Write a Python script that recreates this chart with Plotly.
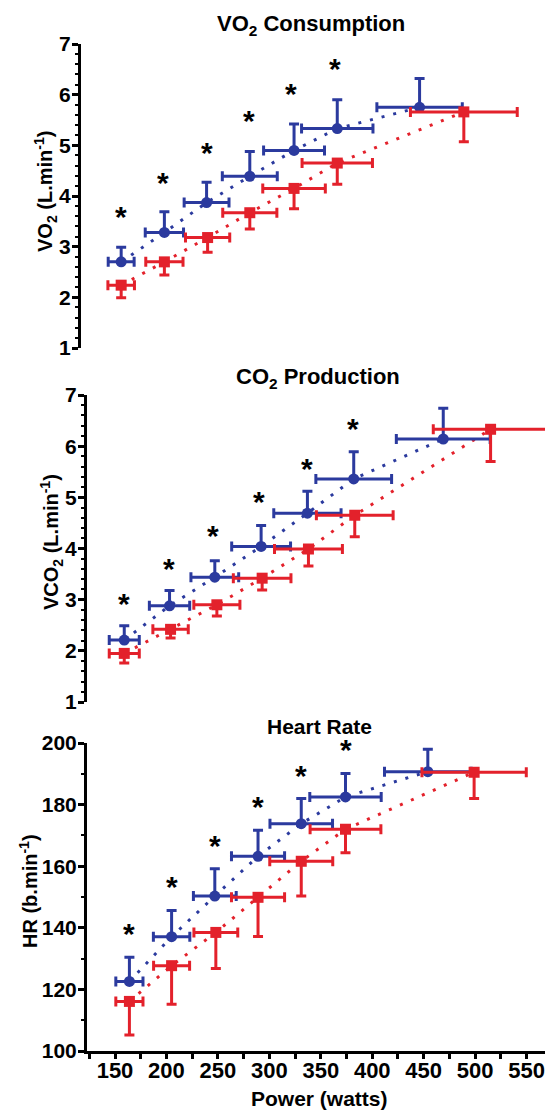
import plotly.graph_objects as go

# page offset of the plot div inside the browser window (default body margin)
OX, OY = 8, 8
W, H = 553 - OX, 1112 - OY
FONT = "Liberation Sans, Arial, sans-serif"
BLUE = "#2B3A9E"
RED = "#E3212B"

# ---------------- Panel 1: VO2 consumption ----------------
vo2_blue_x = [156, 198, 239, 281, 324, 366, 446]
vo2_blue_xerr = [12.6, 18.6, 21.8, 26.7, 29.6, 34.7, 41.5]
vo2_blue_y = [2.70, 3.28, 3.87, 4.39, 4.90, 5.33, 5.75]
vo2_blue_yerr = [0.29, 0.41, 0.40, 0.49, 0.52, 0.57, 0.57]
vo2_red_x = [156, 198, 240, 281, 324, 366, 489]
vo2_red_xerr = [12.9, 18.1, 21.5, 26.3, 30.4, 34.2, 51.9]
vo2_red_y = [2.24, 2.70, 3.18, 3.67, 4.15, 4.65, 5.66]
vo2_red_yerr = [0.25, 0.26, 0.29, 0.32, 0.40, 0.42, 0.59]
vo2_star_x = [156, 197, 239, 280, 321, 364]
vo2_star_y = [3.73, 4.40, 4.98, 5.62, 6.15, 6.65]

# ---------------- Panel 2: CO2 production ----------------
vco2_blue_x = [159, 203, 247, 292, 337, 382, 469]
vco2_blue_xerr = [14.6, 19.6, 23.2, 28.6, 32.7, 36.8, 45.6]
vco2_blue_y = [2.21, 2.88, 3.44, 4.04, 4.69, 5.36, 6.14]
vco2_blue_yerr = [0.28, 0.30, 0.32, 0.41, 0.43, 0.53, 0.60]
vco2_red_x = [159, 204, 249, 293, 338, 383, 515]
vco2_red_xerr = [14.6, 17.2, 22.4, 28.0, 33.0, 37.3, 55.7]
vco2_red_y = [1.95, 2.42, 2.90, 3.42, 3.99, 4.65, 6.33]
vco2_red_yerr = [0.19, 0.17, 0.22, 0.23, 0.33, 0.42, 0.63]
vco2_star_x = [159, 202, 245, 290, 337, 381]
vco2_star_y = [3.05, 3.74, 4.39, 5.05, 5.70, 6.47]

# ---------------- Panel 3: Heart rate ----------------
hr_blue_x = [164, 205, 247, 289, 331, 374, 454]
hr_blue_xerr = [13.2, 17.7, 20.8, 25.8, 30.4, 34.7, 42.1]
hr_blue_y = [122.6, 137.1, 150.3, 163.2, 173.8, 182.5, 190.7]
hr_blue_yerr = [7.8, 8.5, 8.9, 8.5, 8.2, 7.6, 7.3]
hr_red_x = [164, 205, 248, 289, 331, 374, 499]
hr_red_xerr = [13.2, 17.5, 21.3, 25.8, 30.6, 34.4, 50.7]
hr_red_y = [116.1, 127.7, 138.5, 149.9, 161.6, 172.0, 190.5]
hr_red_yerr = [10.9, 12.5, 11.7, 12.7, 11.3, 7.6, 8.5]
hr_star_x = [164, 205, 247, 289, 331, 374]
hr_star_y = [140.2, 155.4, 169.0, 181.4, 191.5, 199.9]

panels = [
    dict(bx=vo2_blue_x, bxe=vo2_blue_xerr, by=vo2_blue_y, bye=vo2_blue_yerr,
         rx=vo2_red_x, rxe=vo2_red_xerr, ry=vo2_red_y, rye=vo2_red_yerr,
         sx=vo2_star_x, sy=vo2_star_y),
    dict(bx=vco2_blue_x, bxe=vco2_blue_xerr, by=vco2_blue_y, bye=vco2_blue_yerr,
         rx=vco2_red_x, rxe=vco2_red_xerr, ry=vco2_red_y, rye=vco2_red_yerr,
         sx=vco2_star_x, sy=vco2_star_y),
    dict(bx=hr_blue_x, bxe=hr_blue_xerr, by=hr_blue_y, bye=hr_blue_yerr,
         rx=hr_red_x, rxe=hr_red_xerr, ry=hr_red_y, rye=hr_red_yerr,
         sx=hr_star_x, sy=hr_star_y),
]

fig = go.Figure()

def fx(px):  # window pixel -> paper fraction
    return (px - OX) / W

def fy(py):
    return 1 - (py - OY) / H

STAR_SIZE = 30
for i, p in enumerate(panels):
    xa = "x" if i == 0 else f"x{i+1}"
    ya = "y" if i == 0 else f"y{i+1}"
    fig.add_trace(go.Scatter(x=p["bx"], y=p["by"], mode="lines", xaxis=xa, yaxis=ya,
                             line=dict(color=BLUE, width=3, dash="3px,9px"),
                             showlegend=False, hoverinfo="skip"))
    fig.add_trace(go.Scatter(x=p["rx"], y=p["ry"], mode="lines", xaxis=xa, yaxis=ya,
                             line=dict(color=RED, width=3, dash="3px,9px"),
                             showlegend=False, hoverinfo="skip"))
    fig.add_trace(go.Scatter(
        x=p["bx"], y=p["by"], mode="markers", xaxis=xa, yaxis=ya,
        marker=dict(symbol="circle", size=11, color=BLUE),
        error_x=dict(type="data", array=p["bxe"], color=BLUE, thickness=3, width=5),
        error_y=dict(type="data", symmetric=False, array=p["bye"],
                     arrayminus=[0] * len(p["bye"]), color=BLUE, thickness=3, width=5),
        showlegend=False))
    fig.add_trace(go.Scatter(
        x=p["rx"], y=p["ry"], mode="markers", xaxis=xa, yaxis=ya,
        marker=dict(symbol="square", size=11, color=RED),
        error_x=dict(type="data", array=p["rxe"], color=RED, thickness=3, width=5),
        error_y=dict(type="data", symmetric=False, array=[0] * len(p["rye"]),
                     arrayminus=p["rye"], color=RED, thickness=3, width=5),
        showlegend=False))
    # significance asterisks (glyph centred on the point)
    for sx, sy in zip(p["sx"], p["sy"]):
        fig.add_annotation(x=sx, y=sy, xref=xa, yref=ya, text="<b>*</b>", showarrow=False,
                           xanchor="center", yanchor="middle", yshift=-0.22 * STAR_SIZE,
                           font=dict(family=FONT, size=STAR_SIZE, color="black"))

xpx_per_w = 1.029
def x_range(axis_px):
    return [150 + (axis_px - 115) / xpx_per_w, 150 + (553 - 115) / xpx_per_w]

tickfont = dict(family=FONT, size=21, color="black", weight="bold")
yaxis_common = dict(showline=True, linewidth=3, linecolor="black", showgrid=False,
                    zeroline=False, ticks="outside", ticklen=6, tickwidth=2.5,
                    tickcolor="black", tickfont=tickfont, automargin=False,
                    ticklabelstandoff=-3)

fig.update_layout(
    template="none",
    width=W, height=H, margin=dict(l=0, r=0, t=0, b=0, pad=0),
    paper_bgcolor="white", plot_bgcolor="white",
    font=dict(family=FONT, color="black"),
    xaxis=dict(domain=[fx(81), 1], range=x_range(81), visible=False, anchor="y", automargin=False),
    xaxis2=dict(domain=[fx(87), 1], range=x_range(87), visible=False, anchor="y2", automargin=False),
    xaxis3=dict(domain=[fx(87), 1], range=x_range(87), anchor="y3", automargin=False,
                showline=True, linewidth=3, linecolor="black", showgrid=False,
                zeroline=False, ticks="outside", ticklen=5, tickwidth=2.5,
                tickcolor="black", tick0=150, dtick=50, tickfont=dict(tickfont, size=22),
                ticklabelstandoff=-7,
                minor=dict(ticks="outside", ticklen=5, tickwidth=2.5, dtick=25,
                           tickcolor="black", showgrid=False)),
    yaxis=dict(domain=[fy(348), fy(44)], range=[1, 7], dtick=1, anchor="x",
               minor=dict(ticks="outside", ticklen=3, tickwidth=2, dtick=0.2,
                          tickcolor="black", showgrid=False), **yaxis_common),
    yaxis2=dict(domain=[fy(702), fy(395)], range=[1, 7], dtick=1, anchor="x2",
                minor=dict(ticks="outside", ticklen=3, tickwidth=2, dtick=0.2,
                           tickcolor="black", showgrid=False), **yaxis_common),
    yaxis3=dict(domain=[fy(1051), fy(743)], range=[100, 200], dtick=20, anchor="x3",
                minor=dict(ticks="outside", ticklen=3, tickwidth=2, dtick=10,
                           tickcolor="black", showgrid=False), **yaxis_common),
)

ann_font = dict(family=FONT, size=20, color="black")
title_font = dict(family=FONT, size=22, color="black")
annotations = [
    dict(text="<b>VO<sub>2</sub> Consumption</b>", x=fx(311), y=fy(25), font=title_font),
    dict(text="<b>CO<sub>2</sub> Production</b>", x=fx(318), y=fy(378), font=title_font),
    dict(text="<b>Heart Rate</b>", x=fx(319), y=fy(726), font=dict(family=FONT, size=21, color="black")),
    dict(text="<b>VO<sub>2</sub> (L.min<sup>-1</sup>)</b>", x=fx(46), y=fy(192), textangle=-90),
    dict(text="<b>VCO<sub>2</sub> (L.min<sup>-1</sup>)</b>", x=fx(51), y=fy(542), textangle=-90),
    dict(text="<b>HR (b.min<sup>-1</sup>)</b>", x=fx(28), y=fy(891), textangle=-90),
    dict(text="<b>Power (watts)</b>", x=fx(319), y=fy(1098), font=dict(family=FONT, size=21, color="black")),
]
for a in annotations:
    a.setdefault("font", ann_font)
    fig.add_annotation(xref="paper", yref="paper", showarrow=False,
                       xanchor="center", yanchor="middle", **a)

fig.write_html("out.html")
